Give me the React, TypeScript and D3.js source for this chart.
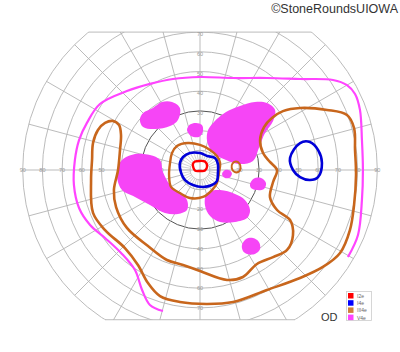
import React from "react";
import * as d3 from "d3";

type Pt = [number, number];

// Visual field coordinates in degrees: [x (temporal/nasal), y (superior/inferior)]
const v4eOuter: Pt[] = [
  [-18.8, -71.6], [-25.4, -68.5], [-29.4, -60.9], [-33.0, -50.8], [-39.6, -42.6],
  [-48.2, -34.5], [-55.8, -27.9], [-61.4, -19.3], [-64.0, -7.6], [-63.5, 5.1],
  [-61.4, 15.2], [-57.4, 23.9], [-50.8, 33.5], [-37.1, 40.1], [-25.4, 43.7],
  [-13.7, 46.2], [0, 47.2], [16.8, 46.7], [34.0, 46.7], [50.8, 46.2],
  [67.5, 45.7], [74.6, 43.1], [78.7, 38.6], [81.2, 30.5], [82.2, 15.2],
  [82.7, 0], [82.2, -15.2], [80.2, -33.0], [75.1, -44.2],
];

const v4eScotomas: Pt[][] = [
  [[-28.9, 28.9], [-23.9, 31.5], [-19.3, 34.5], [-14.2, 34.5], [-10.2, 31.5], [-11.2, 25.4], [-15.2, 22.3], [-22.8, 20.8], [-28.9, 21.8], [-30.5, 25.4]],
  [[7.1, 24.4], [13.2, 29.4], [20.3, 32.5], [27.9, 34.5], [34.0, 34.0], [38.1, 30.5], [37.1, 24.9], [33.0, 18.8], [29.9, 11.2], [26.9, 4.6], [20.3, 3.0], [13.2, 5.1], [6.6, 8.6], [3.6, 14.7], [4.1, 20.3]],
  [[-6.6, 20.3], [-5.1, 23.1], [-2.0, 23.9], [1.0, 22.8], [1.5, 19.8], [-0.5, 16.8], [-4.6, 17.3]],
  [[-39.6, 5.1], [-33.0, 8.1], [-25.4, 7.6], [-20.3, 5.1], [-18.8, -1.0], [-15.2, -7.6], [-10.2, -11.7], [-6.6, -15.2], [-6.6, -20.3], [-11.2, -22.3], [-17.8, -21.8], [-25.4, -17.8], [-33.0, -13.7], [-39.6, -10.2], [-42.1, -4.1], [-41.6, 1.5]],
  [[3.6, -11.7], [10.2, -10.2], [17.8, -12.2], [22.8, -15.2], [25.4, -20.3], [23.9, -24.4], [17.8, -26.4], [10.2, -26.4], [5.1, -23.4], [2.5, -17.8]],
  [[11.2, -2.0], [12.7, 0], [15.2, -0.3], [16.2, -2.0], [14.7, -4.1], [12.2, -3.8]],
  [[25.4, -7.1], [27.4, -4.3], [31.0, -4.1], [33.5, -6.6], [32.5, -9.6], [28.9, -10.2], [25.9, -9.1]],
  [[21.3, -38.1], [23.4, -35.0], [26.9, -34.5], [29.9, -36.5], [30.5, -40.1], [27.9, -42.6], [23.9, -42.6], [21.8, -41.1]],
];

const iii4eMain: Pt[] = [
  [50.8, 31.5], [64.5, 30.5], [74.6, 27.9], [78.2, 21.3], [78.7, 10.2], [79.2, -2.5],
  [78.2, -17.8], [76.1, -30.5], [71.1, -42.1], [62.4, -49.2], [50.8, -54.8], [34.0, -60.9],
  [16.8, -67.0], [3.6, -68.0], [-10.2, -67.0], [-20.3, -64.0], [-26.4, -57.4], [-31.5, -48.2],
  [-38.1, -39.6], [-48.2, -30.5], [-54.3, -21.8], [-55.3, -5.1], [-54.8, 5.1], [-54.3, 13.7],
  [-51.8, 20.3], [-48.2, 23.9], [-44.2, 24.9], [-41.1, 22.8], [-40.1, 17.8], [-40.6, 10.2],
  [-41.6, 0], [-43.7, -10.2], [-42.6, -18.8], [-37.1, -29.4], [-26.4, -38.6], [-16.8, -45.7],
  [-8.6, -48.2], [0, -51.3], [13.7, -55.8], [21.8, -54.3], [28.9, -47.7], [37.1, -44.2],
  [44.2, -40.6], [47.2, -33.0], [45.7, -25.4], [39.1, -20.3], [35.5, -13.7], [37.1, -6.1],
  [39.1, 0], [35.5, 4.1], [32.0, 8.6], [30.5, 15.2], [32.5, 21.8], [36.5, 26.4], [42.1, 29.9],
];

const iii4eCentral: Pt[] = [
  [-14.2, 8.6], [-11.7, 12.2], [-6.1, 13.7], [0, 12.7], [5.1, 10.2], [8.6, 7.1], [10.2, 3.6],
  [9.6, -1.5], [8.6, -6.6], [6.1, -10.2], [1.5, -13.7], [-5.1, -14.2], [-10.2, -11.7],
  [-14.7, -8.6], [-15.7, -2.5], [-15.2, 3.6],
];

const iii4eIsland: Pt[] = [
  [18.3, 4.3], [20.0, 3.3], [20.6, 1.0], [19.5, -1.0], [17.5, -1.0], [16.1, 1.0], [16.5, 3.3],
];

const i4eCentral: Pt[] = [
  [-10.2, 3.6], [-8.6, 6.6], [-5.1, 8.6], [0, 8.6], [3.6, 7.1], [7.6, 6.1], [9.1, 3.0],
  [9.1, -1.5], [8.6, -5.6], [6.1, -7.6], [1.5, -8.6], [-3.6, -7.6], [-7.6, -5.1], [-9.6, -1.5],
];

const i4eIsland: Pt[] = [
  [50.8, 13.7], [55.8, 14.2], [59.9, 10.2], [61.9, 3.6], [59.9, -3.6], [55.8, -5.1],
  [50.8, -3.6], [47.2, 0], [45.7, 6.1],
];

const i2e: Pt[] = [
  [-3.6, 3.0], [-2.5, 4.3], [0, 4.6], [2.5, 4.3], [3.6, 2.0], [2.5, -0.3], [0, -0.5], [-2.5, -0.3],
];

const rings = [10, 20, 30, 40, 50, 60, 70, 80, 90];
const hLabels = [20, 30, 40, 50, 60, 70, 80, 90];
const vLabelsTop = [20, 30, 40, 50, 60, 70];
const vLabelsBottom = [20, 30, 40, 50, 60, 70];
const legendItems = ["I2e", "I4e", "III4e", "V4e"];
const legendColors = ["#ff0000", "#0000ff", "#d0803a", "#ff44ff"];

const CX = 200;
const CY = 170;
const R90 = 177.3;
const TOP_LIMIT = 70;
const BOTTOM_LIMIT = 76;

export default function App() {
  const x = d3.scaleLinear().domain([-90, 90]).range([CX - R90, CX + R90]);
  const y = d3.scaleLinear().domain([-90, 90]).range([CY + R90, CY - R90]);
  const r = d3.scaleLinear().domain([0, 90]).range([0, R90]);

  const closed = d3.line<Pt>().x((d) => x(d[0])).y((d) => y(d[1])).curve(d3.curveCatmullRomClosed.alpha(0.5));
  const open = d3.line<Pt>().x((d) => x(d[0])).y((d) => y(d[1])).curve(d3.curveCatmullRom.alpha(0.5));

  const yTop = y(TOP_LIMIT);
  const yBot = y(-BOTTOM_LIMIT);
  const dxTop = Math.sqrt(R90 * R90 - (CY - yTop) ** 2);
  const dxBot = Math.sqrt(R90 * R90 - (yBot - CY) ** 2);

  const spokes = d3.range(0, 360, 15);
  const fineTicks = d3.range(0, 360, 10);
  const grid = "#b3b3b3";
  const font = "'Liberation Sans', Arial, sans-serif";

  return (
    <svg width={400} height={352} style={{ position: "absolute", left: 0, top: 0, background: "#fff" }} fontFamily={font}>
      <defs>
        <clipPath id="fieldClip">
          <rect x={0} y={yTop} width={400} height={yBot - yTop} />
        </clipPath>
      </defs>
      <g clipPath="url(#fieldClip)">
        {rings.map((e) => (
          <circle key={e} cx={CX} cy={CY} r={r(e)} fill="none" stroke={e === 30 ? "#555" : grid} strokeWidth={e === 30 ? 1 : 0.9} />
        ))}
        <circle cx={CX} cy={CY} r={r(5)} fill="none" stroke={grid} strokeWidth={0.7} />
        {spokes.map((a) => {
          const rad = (a * Math.PI) / 180;
          const r0 = a % 90 === 0 ? 0 : r(10);
          return (
            <line key={a} x1={CX + r0 * Math.cos(rad)} y1={CY - r0 * Math.sin(rad)} x2={CX + R90 * Math.cos(rad)} y2={CY - R90 * Math.sin(rad)} stroke={grid} strokeWidth={0.9} />
          );
        })}
        {fineTicks.map((a) => {
          const rad = (a * Math.PI) / 180;
          return (
            <line key={"f" + a} x1={CX + r(5) * Math.cos(rad)} y1={CY - r(5) * Math.sin(rad)} x2={CX + r(10) * Math.cos(rad)} y2={CY - r(10) * Math.sin(rad)} stroke={grid} strokeWidth={0.6} />
          );
        })}
      </g>
      <line x1={CX - dxTop} y1={yTop} x2={CX + dxTop} y2={yTop} stroke={grid} strokeWidth={0.9} />
      <line x1={CX - dxBot} y1={yBot} x2={CX + dxBot} y2={yBot} stroke={grid} strokeWidth={0.9} />

      {hLabels.map((e) => (
        <g key={"h" + e} fontSize={5.5} fill="#999" textAnchor="middle" dominantBaseline="central">
          <text x={x(-e)} y={CY}>{e}</text>
          <text x={x(e)} y={CY}>{e}</text>
        </g>
      ))}
      {vLabelsTop.map((e) => (
        <text key={"t" + e} x={CX} y={y(e) + 2} fontSize={5.5} fill="#999" textAnchor="middle" dominantBaseline="central">{e}</text>
      ))}
      {vLabelsBottom.map((e) => (
        <text key={"b" + e} x={CX} y={y(-e)} fontSize={5.5} fill="#999" textAnchor="middle" dominantBaseline="central">{e}</text>
      ))}

      {v4eScotomas.map((s, i) => (
        <path key={"s" + i} d={closed(s) ?? ""} fill="#f645f6" stroke="none" />
      ))}
      <path d={open(v4eOuter) ?? ""} fill="none" stroke="#ff44ff" strokeWidth={2.2} />
      <path d={closed(iii4eMain) ?? ""} fill="none" stroke="#c8661c" strokeWidth={2.6} />
      <path d={closed(iii4eCentral) ?? ""} fill="none" stroke="#c8661c" strokeWidth={2.4} />
      <path d={closed(iii4eIsland) ?? ""} fill="none" stroke="#c8661c" strokeWidth={2} />
      <path d={closed(i4eCentral) ?? ""} fill="none" stroke="#0000d8" strokeWidth={2.6} />
      <path d={closed(i4eIsland) ?? ""} fill="none" stroke="#0000d8" strokeWidth={2.6} />
      <path d={closed(i2e) ?? ""} fill="none" stroke="#ff0000" strokeWidth={2.4} />

      <text x={398} y={13} fontSize={12.5} fill="#333" textAnchor="end">©StoneRoundsUIOWA</text>
      <text x={321} y={321} fontSize={11} fill="#333">OD</text>

      <rect x={346.5} y={291.5} width={25} height={29} fill="#fff" stroke="#ccc" strokeWidth={0.8} />
      {legendItems.map((l, i) => (
        <g key={l}>
          <rect x={348} y={293 + i * 7.2} width={5.5} height={5.5} fill={legendColors[i]} />
          <text x={357} y={295.9 + i * 7.2} fontSize={5} fill="#666" dominantBaseline="central">{l}</text>
        </g>
      ))}
    </svg>
  );
}
